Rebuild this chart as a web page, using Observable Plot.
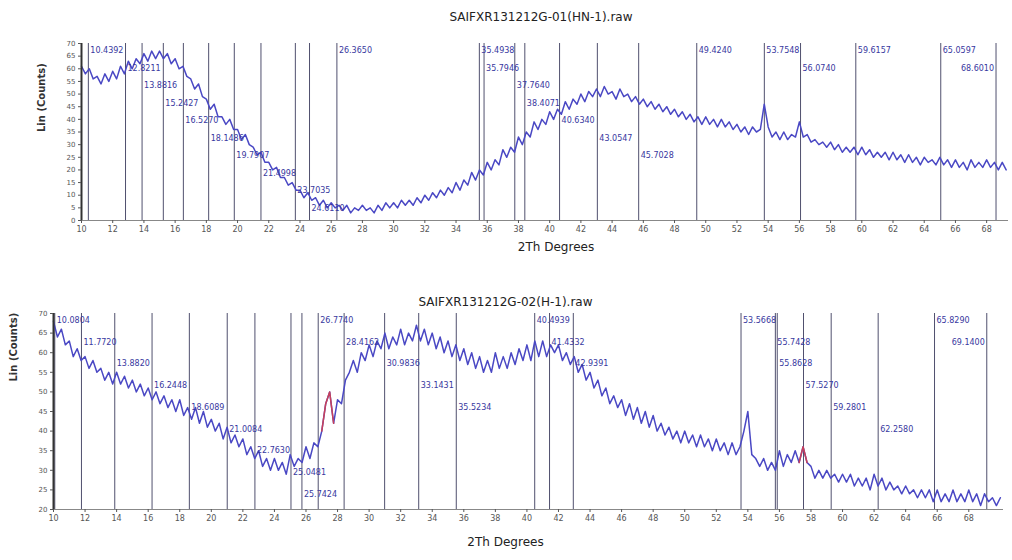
<!DOCTYPE html>
<html><head><meta charset="utf-8">
<script src="https://cdn.jsdelivr.net/npm/d3@7"></script>
<script src="https://cdn.jsdelivr.net/npm/@observablehq/plot@0.6"></script>
<style>
body{margin:0;background:#fff;font-family:"DejaVu Sans",sans-serif;}
#root{position:relative;width:1012px;height:560px;overflow:hidden;background:#fff;}
#root svg{position:absolute;left:0;}
</style></head><body><div id="root"></div>
<script>
const title1 = "SAIFXR131212G-01(HN-1).raw";
const title2 = "SAIFXR131212G-02(H-1).raw";
const xLabel = "2Th Degrees";
const yLabel = "Lin (Counts)";
const angleStart = 10, angleStep = 0.25;

// Pattern 1 (top), 2θ = 10 ... 69.25, step 0.25
const counts1 = [
61,58,60,56, 57,54,58,55, 59,56,61,58, 63,60,64,62, 66,63,67,64,
67,64,66,62, 64,60,61,57, 56,52,54,49, 48,44,46,41, 41,38,40,36,
36,32,34,30, 29,26,27,23, 23,20,21,17, 17,14,15,12, 12,9,11,8,
9,6,8,5, 7,5,6,4, 6,3,5,4, 6,4,5,3, 6,4,7,5,
7,5,8,6, 8,6,9,7, 10,8,11,9, 12,10,13,11, 15,12,16,14,
19,16,20,18, 23,20,24,22, 28,25,29,27, 33,30,35,33, 39,36,40,38,
43,40,44,42, 47,44,48,46, 50,47,51,49, 52,49,53,50, 51,48,52,49,
50,47,49,46, 48,45,47,44, 46,43,45,42, 44,41,43,40, 42,39,41,38,
41,38,40,37, 40,37,39,36, 38,35,37,34, 37,35,36,46, 37,33,35,32,
35,32,34,33, 39,33,34,31, 32,30,31,29, 31,28,30,27, 29,27,29,26,
29,26,28,25, 27,25,27,24, 27,24,26,23, 26,23,25,22, 25,23,24,22,
25,22,24,21, 24,21,23,20, 24,21,23,21, 24,21,23,20, 23,20
];

// Pattern 2 (bottom), 2θ = 10 ... 70, step 0.25
const counts2 = [
68,64,66,62, 63,59,61,58, 59,56,58,55, 56,53,55,52, 55,52,54,51,
53,50,52,49, 51,48,50,47, 49,46,48,45, 48,44,46,43, 46,42,45,41,
43,40,42,38, 41,37,39,36, 38,34,36,33, 35,31,33,30, 33,30,32,29,
34,31,33,32, 36,33,37,36, 40,47,50,42, 48,47,53,55, 58,55,60,58,
62,59,63,61, 65,61,64,62, 66,62,65,63, 67,63,66,62, 65,61,64,60,
63,59,62,58, 61,57,60,56, 59,55,58,55, 60,56,59,56, 60,57,61,58,
62,58,63,59, 63,59,62,60, 62,58,60,57, 59,55,57,53, 55,51,53,49,
51,47,49,46, 48,44,47,43, 46,42,45,41, 44,40,42,39, 41,38,40,37,
40,37,39,36, 39,36,38,35, 38,35,37,34, 37,34,36,40, 45,34,33,31,
33,30,32,30, 35,31,34,32, 35,32,36,32, 31,28,30,28, 30,28,29,27,
29,27,29,26, 28,26,28,25, 29,26,28,25, 27,25,26,24, 26,24,25,23,
25,23,25,22, 25,22,24,22, 25,22,24,22, 25,22,24,21, 24,22,23,21,
23
];

// Peak markers (2θ), also used as their labels
const peaks1 = [10.4392, 12.8211, 13.8816, 15.2427, 16.5270, 18.1486, 19.7907, 21.4998,
  23.7035, 24.6110, 26.3650, 35.4938, 35.7946, 37.7640, 38.4071, 40.6340, 43.0547,
  45.7028, 49.4240, 53.7548, 56.0740, 59.6157, 65.0597, 68.6010];
const peaks2 = [10.0804, 11.7720, 13.8820, 16.2448, 18.6089, 21.0084, 22.7630, 25.0481,
  25.7424, 26.7740, 28.4162, 30.9836, 33.1431, 35.5234, 40.4939, 41.4332, 42.9391,
  53.5668, 55.7428, 55.8628, 57.5270, 59.2801, 62.2580, 65.8290, 69.1400];

// Short overlay segments drawn in red on pattern 2
const redRanges2 = [[27.0, 27.75], [57.25, 57.75]];

const xTicks = [10,12,14,16,18,20,22,24,26,28,30,32,34,36,38,40,42,44,46,48,50,52,54,56,58,60,62,64,66,68];
const yTicks1 = [0,5,10,15,20,25,30,35,40,45,50,55,60,65,70];
const yTicks2 = [20,25,30,35,40,45,50,55,60,65,70];

function cascadeRows(peaks, widthDeg, cap) {
  let r = 0, prev = -Infinity;
  return peaks.map(p => { r = (p - prev < widthDeg) ? r + 1 : 0; prev = p; return r % cap; });
}

function panel(o) {
  const pts = o.counts.map((v, i) => ({x: angleStart + i * angleStep, y: v}));
  const rows = cascadeRows(o.peaks, 3.2, o.cap);
  const pxPerUnit = (o.height - o.mt - o.mb) / (o.yDomain[1] - o.yDomain[0]);
  const labels = o.peaks.map((p, i) => {
    const edge = p > o.xDomain[1] - 2.4;
    const row = edge ? rows[i] + 1 : rows[i];
    return {x: p, y: o.yDomain[1] - (7 + row * o.rowH) / pxPerUnit, t: p.toFixed(4), edge};
  });
  const red = [];
  (o.red || []).forEach((r, k) => pts.filter(d => d.x >= r[0] && d.x <= r[1]).forEach(d => red.push({...d, k})));
  return Plot.plot({
    width: 1012, height: o.height,
    marginTop: o.mt, marginBottom: o.mb, marginLeft: o.ml, marginRight: o.mr,
    style: {fontFamily: "DejaVu Sans, sans-serif", background: "transparent", overflow: "visible"},
    x: {domain: o.xDomain},
    y: {domain: o.yDomain},
    marks: [
      Plot.ruleX(o.peaks, {stroke: "#50506e", strokeWidth: 1}),
      Plot.line(pts, {x: "x", y: "y", stroke: "#4a48c4", strokeWidth: 1.5}),
      Plot.line(red, {x: "x", y: "y", z: "k", stroke: "#c8405a", strokeWidth: 1.5}),
      Plot.text(labels.filter(d => !d.edge), {x: "x", y: "y", text: "t", textAnchor: "start", dx: 2, fontSize: 8, fill: "#3838a0"}),
      Plot.text(labels.filter(d => d.edge), {x: "x", y: "y", text: "t", textAnchor: "end", dx: -2, fontSize: 8, fill: "#3838a0"}),
      Plot.ruleY([o.yDomain[0]], {stroke: "#888", strokeWidth: 1}),
      Plot.ruleX([o.xDomain[0]], {stroke: "#333", strokeWidth: 2}),
      Plot.axisX({ticks: xTicks, tickSize: 3, tickPadding: 3, fontSize: 8, label: null, stroke: "#555", color: "#555"}),
      Plot.axisY({ticks: o.yTicks, tickSize: 3, tickPadding: 3, fontSize: 7, label: null, stroke: "#555", color: "#555"}),
      Plot.text([o.title], {frameAnchor: "top", dy: o.titleDy, dx: o.titleDx, fontSize: 12, fill: "#222"}),
      Plot.text([xLabel], {frameAnchor: "bottom", dy: o.xlabDy, dx: o.xlabDx, fontSize: 12, fill: "#222"}),
      Plot.text([yLabel], {frameAnchor: "left", dx: o.ylabDx, dy: o.ylabDy, rotate: -90, fontSize: 10, fontWeight: "bold", fill: "#333"})
    ]
  });
}

const root = document.getElementById("root");
const p1 = panel({counts: counts1, peaks: peaks1, xDomain: [10, 69.4], yDomain: [0, 70], yTicks: yTicks1,
  height: 262, mt: 43, mb: 42, ml: 81, mr: 4, cap: 10, rowH: 17.5,
  title: title1, titleDy: -31, titleDx: -4, xlabDy: 30, xlabDx: 11, ylabDx: -40, ylabDy: 0});
p1.style.top = "0px";
root.appendChild(p1);
const p2 = panel({counts: counts2, peaks: peaks2, xDomain: [10, 70.2], yDomain: [20, 70], yTicks: yTicks2,
  height: 298, mt: 51, mb: 51, ml: 53, mr: 9, cap: 9, rowH: 21.7, red: redRanges2,
  title: title2, titleDy: -16, titleDx: -23, xlabDy: 36, xlabDx: -23, ylabDx: -40, ylabDy: -30});
p2.style.top = "262px";
root.appendChild(p2);
</script>
</body></html>
